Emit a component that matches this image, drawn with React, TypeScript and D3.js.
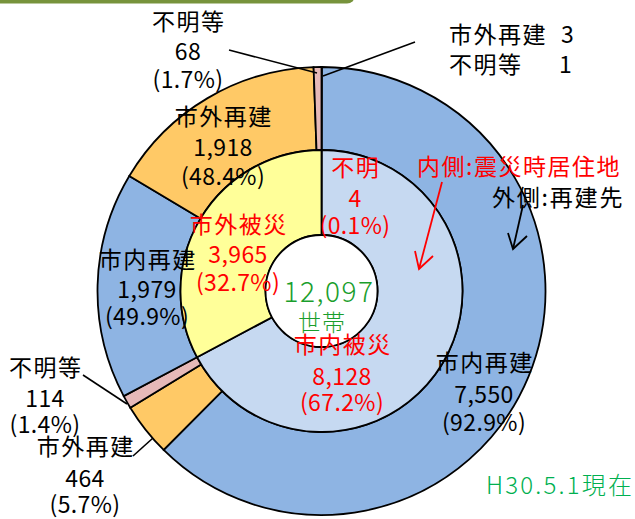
import React from "react";
import * as d3 from "d3";

// Inner ring: place of residence at disaster time
const innerCategories = ["不明", "市内被災", "市外被災"];
const innerValues = [4, 8128, 3965];
const innerPercents = ["0.1%", "67.2%", "32.7%"];

// Outer ring: rebuilding destination (grouped per inner category, same order)
const outerCategories = ["市外再建", "不明等", "市内再建", "市外再建", "不明等", "市内再建", "市外再建", "不明等"];
const outerGroups = ["不明", "不明", "市内被災", "市内被災", "市内被災", "市外被災", "市外被災", "市外被災"];
const outerValues = [3, 1, 7550, 464, 114, 1979, 1918, 68];
const outerPercents = ["", "", "92.9%", "5.7%", "1.4%", "49.9%", "48.4%", "1.7%"];

const totalLabel = "12,097";
const unitLabel = "世帯";
const dateLabel = "H30.5.1現在";

const outerColor: Record<string, string> = {
  市内再建: "#8EB4E3",
  市外再建: "#FFC966",
  不明等: "#E6B9B8",
};
const innerColor: Record<string, string> = {
  不明: "#E6B9B8",
  市内被災: "#C6D9F1",
  市外被災: "#FFFF99",
};

const FONT = "'Noto Sans CJK JP', 'Noto Sans', sans-serif";
const fmt = d3.format(",");

export default function App() {
  const W = 635;
  const H = 519;
  const cx = 321.5;
  const cy = 291;
  const rHole = 56;
  const rMid = 141;
  const rOut = 224;

  const pie = d3
    .pie<number>()
    .sort(null)
    .value((d) => d)
    .startAngle(0)
    .endAngle(2 * Math.PI);

  const innerArcs = pie(innerValues);
  const outerArcs = pie(outerValues);

  const innerArc = d3.arc<d3.PieArcDatum<number>>().innerRadius(rHole).outerRadius(rMid);
  const outerArc = d3.arc<d3.PieArcDatum<number>>().innerRadius(rMid).outerRadius(rOut);

  const fs = 23;

  const block = (
    x: number,
    ys: number[],
    lines: string[],
    color: string,
    key: string
  ) => (
    <g key={key}>
      {lines.map((t, i) => (
        <text
          key={i}
          x={x + (i === 0 ? 0.75 : 0)}
          y={ys[i]}
          textAnchor="middle"
          fill={color}
          fontSize={fs}
          letterSpacing={i === 0 ? 1.5 : 0.4}
          fontFamily={FONT}
        >
          {t}
        </text>
      ))}
    </g>
  );

  return (
    <svg
      width={W}
      height={H}
      viewBox={`0 0 ${W} ${H}`}
      style={{ position: "absolute", left: 0, top: 0, background: "#fff" }}
    >
      <rect x={-20} y={-20} width={375} height={23.5} rx={8} fill="#77933C" />

      <g transform={`translate(${cx},${cy})`}>
        {outerArcs.map((a, i) => (
          <path
            key={"o" + i}
            d={outerArc(a) || ""}
            fill={outerColor[outerCategories[i]]}
            stroke="#000"
            strokeWidth={1.8}
          />
        ))}
        {innerArcs.map((a, i) => (
          <path
            key={"i" + i}
            d={innerArc(a) || ""}
            fill={innerColor[innerCategories[i]]}
            stroke="#000"
            strokeWidth={1.8}
          />
        ))}
        <circle r={rHole} fill="#fff" stroke="#000" strokeWidth={1.8} />
      </g>

      {/* leader lines */}
      <g stroke="#000" strokeWidth={1.6} fill="none">
        <line x1={229} y1={50} x2={317} y2={73} />
        <line x1={415} y1={42} x2={323} y2={76} />
        <line x1={83} y1={375} x2={127} y2={404} />
        <line x1={133} y1={456} x2={153} y2={438} />
      </g>

      {/* arrows */}
      <g stroke="#FF0000" strokeWidth={1.8} fill="none">
        <line x1={442} y1={182} x2={419} y2={269} />
        <polyline points="415,251 419,269 433,256" />
      </g>
      <g stroke="#000" strokeWidth={1.8} fill="none">
        <line x1={523} y1={205} x2={513} y2={249} />
        <polyline points="508,233 513,249 527,236" />
      </g>

      {/* outer labels */}
      {block(188, [30, 60, 88], [outerCategories[7], fmt(outerValues[7]), `(${outerPercents[7]})`], "#000", "l7")}
      {block(223, [125, 156, 185], [outerCategories[6], fmt(outerValues[6]), `(${outerPercents[6]})`], "#000", "l6")}
      {block(147, [268, 298, 325], [outerCategories[5], fmt(outerValues[5]), `(${outerPercents[5]})`], "#000", "l5")}
      {block(484, [371, 403, 431], [outerCategories[2], fmt(outerValues[2]), `(${outerPercents[2]})`], "#000", "l2")}
      {block(45, [376, 407, 433], [outerCategories[4], fmt(outerValues[4]), `(${outerPercents[4]})`], "#000", "l4")}
      {block(85, [455, 487, 513], [outerCategories[3], fmt(outerValues[3]), `(${outerPercents[3]})`], "#000", "l3")}

      <g fontSize={fs} fontFamily={FONT} fill="#000">
        <text x={449} y={43} letterSpacing={1.5}>{outerCategories[0]}</text>
        <text x={561} y={43}>{outerValues[0]}</text>
        <text x={449} y={73} letterSpacing={1.5}>{outerCategories[1]}</text>
        <text x={559} y={73}>{outerValues[1]}</text>
      </g>

      {/* inner labels */}
      {block(238, [233, 263, 291], [innerCategories[2], fmt(innerValues[2]), `(${innerPercents[2]})`], "#FF0000", "i2")}
      {block(355, [176, 207, 234], [innerCategories[0], fmt(innerValues[0]), `(${innerPercents[0]})`], "#FF0000", "i0")}
      {block(342, [353, 385, 411], [innerCategories[1], fmt(innerValues[1]), `(${innerPercents[1]})`], "#FF0000", "i1")}

      {/* center */}
      <text x={329} y={302} textAnchor="middle" fill="#1A9E2C" fontSize={28} fontWeight={300} letterSpacing={1.5} fontFamily={FONT}>
        {totalLabel}
      </text>
      <text x={322} y={331} textAnchor="middle" fill="#1A9E2C" fontSize={23} fontWeight={300} letterSpacing={1} fontFamily={FONT}>
        {unitLabel}
      </text>

      {/* legend notes */}
      <text x={417} y={175} fill="#FF0000" fontSize={fs} letterSpacing={1.5} fontFamily={FONT}>
        内側:震災時居住地
      </text>
      <text x={492} y={206} fill="#000" fontSize={fs} letterSpacing={1.8} fontFamily={FONT}>
        外側:再建先
      </text>

      <text x={486} y={494} fill="#00B050" fontSize={24} fontWeight={300} letterSpacing={2.2} fontFamily={FONT}>
        {dateLabel}
      </text>
    </svg>
  );
}
